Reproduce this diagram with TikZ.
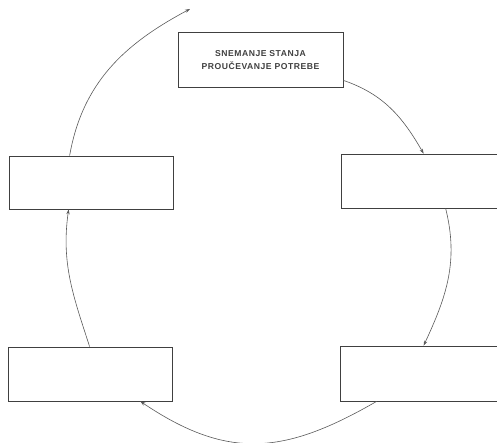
\documentclass[tikz,border=0pt]{standalone}
\usepackage{fontspec}
\setmainfont{Liberation Sans}
\usetikzlibrary{arrows.meta}
\tikzset{
  box/.style={draw=black!75, line width=0.75pt, inner sep=0pt, fill=none},
  conn/.style={draw=black!65, line width=0.6pt, -{Stealth[length=5pt,width=3.4pt]}},
  lbl/.style={font=\fontsize{8.6}{12.8}\selectfont\bfseries, text=black!75, align=center}
}
\begin{document}
\begin{tikzpicture}[x=1pt,y=-1pt]
\useasboundingbox (0,0) rectangle (497,443);
\clip (0,0) rectangle (497,443);
% boxes
\node[box, minimum width=165pt, minimum height=55pt] (top) at (260.5,59.5) {};
\node[lbl] (toptext) at (260.5,60) {\addfontfeatures{LetterSpace=6}SNEMANJE STANJA\\\addfontfeatures{LetterSpace=6}PROUČEVANJE POTREBE};
\node[box, minimum width=159pt, minimum height=54pt] (R1) at (420.5,181) {};
\node[box, minimum width=164pt, minimum height=53pt] (L1) at (91,182.5) {};
\node[box, minimum width=160pt, minimum height=55pt] (R2) at (420,373.5) {};
\node[box, minimum width=164pt, minimum height=54pt] (L2) at (90,374) {};
\coordinate (end) at (190,9);
% connectors
\draw[conn] ([yshift=7pt]top.south east) to[out=-19, in=120] ([xshift=83pt]R1.north west);
\draw[conn] ([xshift=105pt]R1.south west) to[out=-76, in=65] ([xshift=84pt]R2.north west);
\draw[conn] ([xshift=37pt]R2.south west) to[out=-150, in=-34, looseness=1.15] ([xshift=-32pt]L2.south east);
\draw[conn] ([xshift=82pt]L2.north west) to[out=108, in=-98] ([xshift=60pt]L1.south west);
\draw[conn] ([xshift=61pt]L1.north west) to[out=80, in=-152] (end);
\end{tikzpicture}
\end{document}
